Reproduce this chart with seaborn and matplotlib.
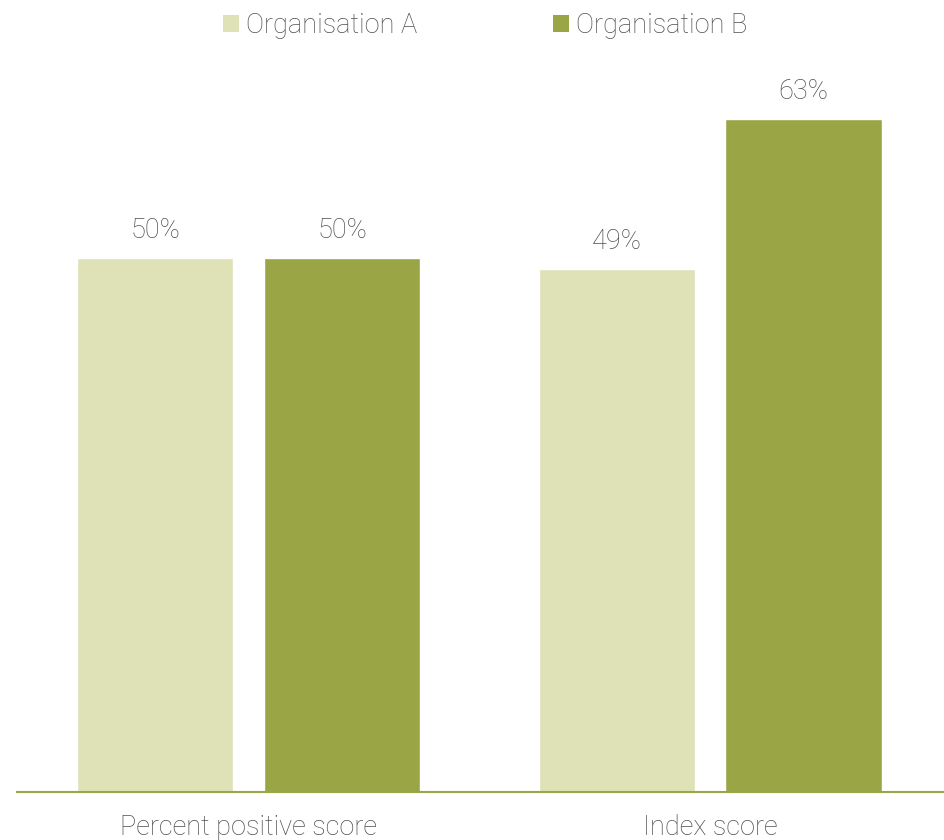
import matplotlib
matplotlib.use("Agg")
import matplotlib.pyplot as plt
import seaborn as sns
import pandas as pd
from matplotlib.patches import Patch

categories = ["Percent positive score", "Index score"]
organisations = ["Organisation A", "Organisation B"]
org_a = [50, 49]
org_b = [50, 63]
colors = ["#dfe2b6", "#9aa546"]

df = pd.DataFrame({
    "category": categories * 2,
    "organisation": [organisations[0]] * 2 + [organisations[1]] * 2,
    "value": org_a + org_b,
})

sns.set_style("white")
plt.rcParams["font.family"] = ["Roboto", "DejaVu Sans"]
plt.rcParams["font.weight"] = "light"
text_color = "#505050"
fsize = 19.5

fig = plt.figure(figsize=(9.44, 8.4), dpi=100)
ax = fig.add_axes([0.018, 0.0571, 0.982, 0.89])

sns.barplot(data=df, x="category", y="value", hue="organisation",
            palette=colors, width=0.81, gap=0.165, saturation=1,
            legend=False, ax=ax)

# percentage labels above each bar
for container in ax.containers:
    ax.bar_label(container, labels=[f"{v:.0f}%" for v in container.datavalues],
                 padding=10, fontsize=fsize, color=text_color, fontweight="light")

ax.set_ylim(0, 70)
ax.set_xlim(-0.502, 1.507)
ax.set_xlabel("")
ax.set_ylabel("")
ax.set_yticks([])
ax.tick_params(axis="x", length=0, pad=16, labelsize=fsize, labelcolor=text_color)
for lbl in ax.get_xticklabels():
    lbl.set_fontweight("light")
for side in ["top", "right", "left"]:
    ax.spines[side].set_visible(False)
ax.spines["bottom"].set_color("#9aa546")
ax.spines["bottom"].set_linewidth(1.5)

handles = [Patch(facecolor=c, edgecolor="none") for c in colors]
leg = fig.legend(handles, organisations, loc="center", bbox_to_anchor=(0.514, 0.97),
                 ncol=2, frameon=False, fontsize=fsize, handlelength=0.6,
                 handleheight=0.6, handletextpad=0.25, columnspacing=5.0)
for t in leg.get_texts():
    t.set_color(text_color)
    t.set_fontweight("light")

fig.savefig("out.png", dpi=100)
